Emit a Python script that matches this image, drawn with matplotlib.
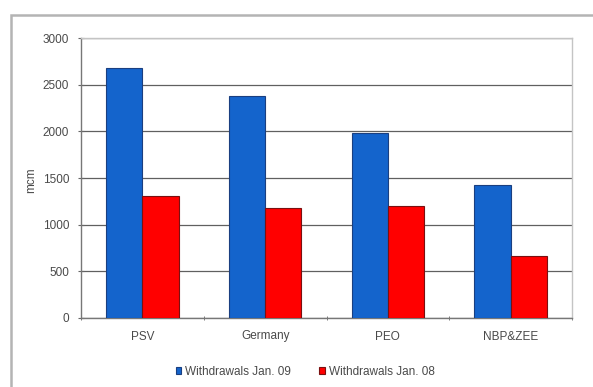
import matplotlib
matplotlib.use("Agg")
import matplotlib.pyplot as plt
from matplotlib.patches import Rectangle
import numpy as np

categories = ["PSV", "Germany", "PEO", "NBP&ZEE"]
withdrawals_jan09 = [2680, 2380, 1980, 1420]
withdrawals_jan08 = [1310, 1175, 1200, 668]
series_labels = ["Withdrawals Jan. 09", "Withdrawals Jan. 08"]
y_ticks = [0, 500, 1000, 1500, 2000, 2500, 3000]

plt.rcParams["font.family"] = ["Liberation Sans", "DejaVu Sans"]
FS = 8.5
TXT = "#4a4a4a"

W, H = 593, 387
fig = plt.figure(figsize=(W / 100, H / 100), dpi=100)
fig.patch.set_facecolor("white")

# outer chart frame (runs off the right and bottom edges)
top = 1 - 15 / H
fig.patches.append(Rectangle((11 / W, -0.2), 1.2, top + 0.2,
                             transform=fig.transFigure, fill=False,
                             edgecolor="#b4b4b4", linewidth=1.8, zorder=0))

ax = fig.add_axes([81 / W, (H - 318) / H, (572 - 81) / W, (318 - 38) / H])
ax.set_facecolor("white")

x = np.arange(len(categories))
bw = 0.295
blue = "#1464cc"
red = "#ff0000"
b1 = ax.bar(x - bw / 2, withdrawals_jan09, width=bw, color=blue,
            edgecolor="#1a3f80", linewidth=0.8, zorder=3, label=series_labels[0])
b2 = ax.bar(x + bw / 2, withdrawals_jan08, width=bw, color=red,
            edgecolor="#7a1010", linewidth=0.8, zorder=3, label=series_labels[1])

ax.set_xlim(-0.5, len(categories) - 0.5)
ax.set_ylim(0, 3000)
ax.set_yticks(y_ticks)
ax.set_yticklabels([str(v) for v in y_ticks])
ax.yaxis.grid(True, color="#606060", linewidth=0.9, zorder=1)
ax.set_axisbelow(True)

# category labels centered, tick marks on category boundaries
ax.set_xticks(x)
ax.set_xticklabels(categories)
ax.tick_params(axis="x", length=0, pad=9, labelsize=FS, labelcolor=TXT)
ax.set_xticks(np.arange(-0.5, len(categories)), minor=True)
ax.tick_params(axis="x", which="minor", length=3, color="#666666", direction="inout")
ax.tick_params(axis="y", length=5, direction="inout", color="#666666",
               labelsize=FS, labelcolor=TXT, pad=6)

for side in ["left", "bottom"]:
    ax.spines[side].set_color("#777777")
    ax.spines[side].set_linewidth(1.0)
for side in ["top", "right"]:
    ax.spines[side].set_color("#c4c4c4")
    ax.spines[side].set_linewidth(1.0)

fig.text(31 / W, 1 - 180 / H, "mcm", rotation=90, ha="center", va="center",
         fontsize=FS, color=TXT)

fig.legend(handles=[b1, b2], labels=series_labels, loc="center",
           bbox_to_anchor=(305 / W, 1 - 372 / H), ncol=2, frameon=False,
           fontsize=FS, labelcolor=TXT, handlelength=0.5,
           handleheight=0.5, handletextpad=0.3, columnspacing=2.4)

fig.savefig("out.png", dpi=100, facecolor="white")
